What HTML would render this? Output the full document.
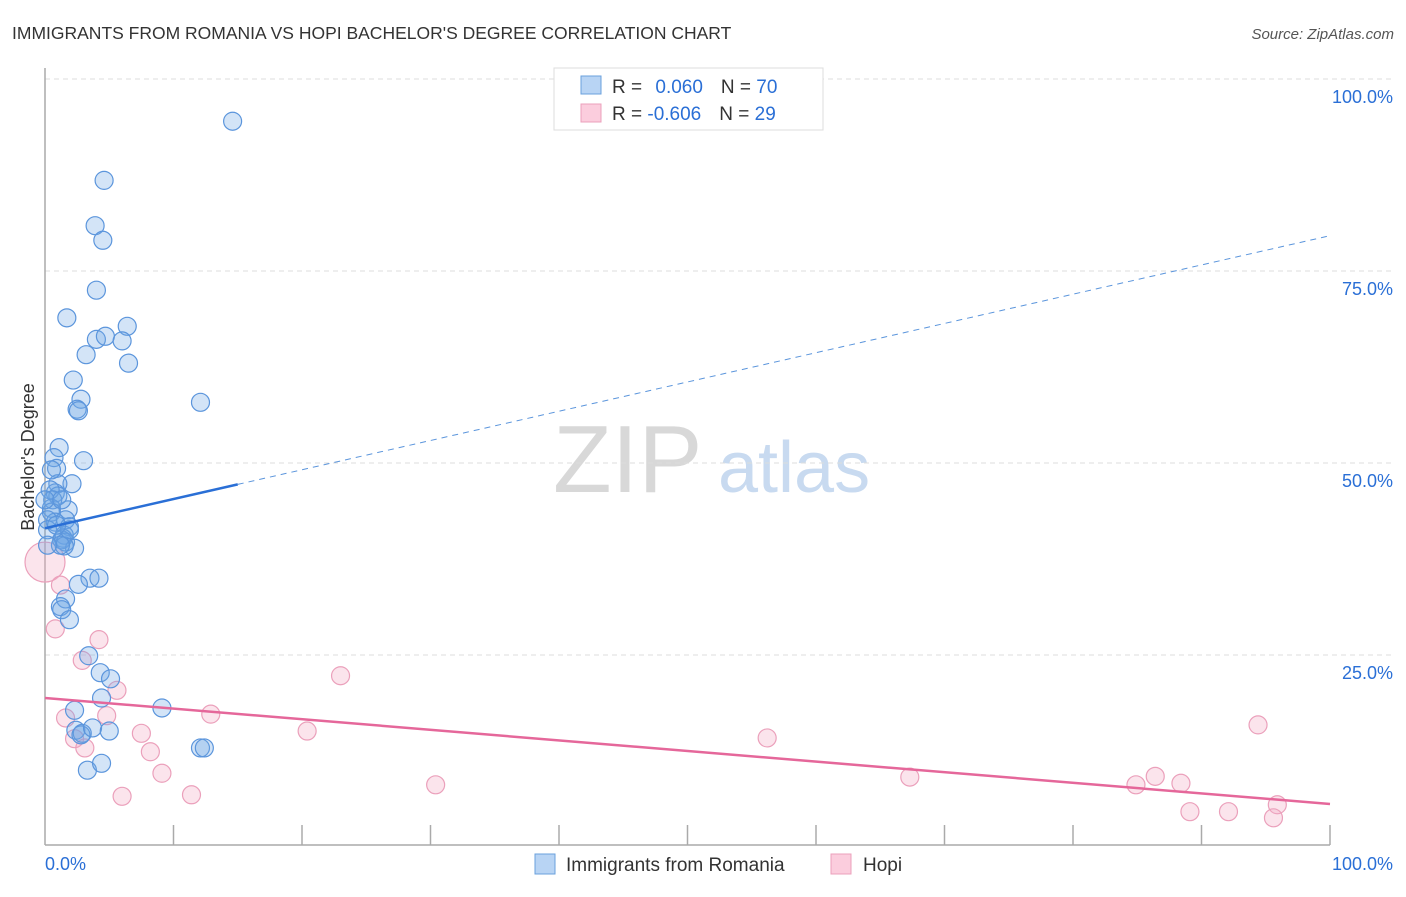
<!DOCTYPE html>
<html><head><meta charset="utf-8"><style>
body{margin:0;background:#fff;font-family:"Liberation Sans",sans-serif;}
svg text{font-family:"Liberation Sans",sans-serif;}
</style></head><body>
<svg width="1406" height="892" viewBox="0 0 1406 892">
<text x="12" y="39" font-size="17.5" fill="#333">IMMIGRANTS FROM ROMANIA VS HOPI BACHELOR'S DEGREE CORRELATION CHART</text>
<text x="1394" y="39" font-size="15" fill="#555" font-style="italic" text-anchor="end">Source: ZipAtlas.com</text>
<g>
<text x="553" y="492" font-family="Liberation Serif" font-size="96" fill="#d8d8d8">ZIP</text>
<text x="718" y="492" font-size="72" fill="#c8daf0">atlas</text>
</g>
<g id="grid"></g>
<g id="axes"></g>
<text transform="translate(34,457) rotate(-90)" font-size="18" fill="#333" text-anchor="middle">Bachelor's Degree</text>
<g id="pts"></g>
<g id="trend"></g>
<g>
<rect x="554" y="68" width="269" height="62" fill="#fff" stroke="#ddd"/>
<rect x="581" y="76" width="20" height="18" fill="#b8d4f4" stroke="#6aa0dc"/>
<rect x="581" y="104" width="20" height="18" fill="#fbcddd" stroke="#eba0bb"/>
<text x="612" y="93" font-size="19" fill="#333">R = <tspan fill="#2a6fd6" dx="8">0.060</tspan><tspan fill="#333" dx="18">N = </tspan><tspan fill="#2a6fd6">70</tspan></text>
<text x="612" y="120" font-size="19" fill="#333">R = <tspan fill="#2a6fd6">-0.606</tspan><tspan fill="#333" dx="18">N = </tspan><tspan fill="#2a6fd6">29</tspan></text>
</g>
<g>
<rect x="535" y="854" width="20" height="20" fill="#b8d4f4" stroke="#6aa0dc"/>
<text x="566" y="871" font-size="19" fill="#333">Immigrants from Romania</text>
<rect x="831" y="854" width="20" height="20" fill="#fbcddd" stroke="#eba0bb"/>
<text x="863" y="871" font-size="19" fill="#333">Hopi</text>
</g>
</svg>
<script>
const blueX=[14.6,4.6,3.9,4.5,4.0,1.7,6.4,4.0,4.7,6.0,3.2,6.5,2.2,2.8,2.5,2.6,12.1,1.1,3.0,0.7,0.9,2.1,1.0,0.8,1.0,0.4,0.6,0.5,1.8,0.5,1.6,0.8,1.9,1.5,1.4,1.3,1.6,2.3,1.5,3.5,4.2,2.6,1.6,1.2,1.3,1.9,3.4,4.3,5.1,4.4,2.3,9.1,2.4,2.9,2.8,3.7,5.0,12.1,12.4,3.3,4.4,0.2,0.2,0,0.5,1.2,1.9,0.2,0.9,1.3];
const blueY=[94.5,86.8,80.9,79.0,72.5,68.9,67.8,66.1,66.5,65.9,64.1,63.0,60.8,58.3,57.0,56.8,57.9,52.0,50.3,50.7,49.3,47.3,47.3,46.1,45.7,46.5,45.2,44.1,43.9,43.6,42.6,42.3,41.7,40.6,40.2,40.0,39.7,38.9,39.2,35.0,35.0,34.2,32.3,31.3,30.9,29.6,24.9,22.7,21.9,19.4,17.8,18.1,15.2,14.8,14.6,15.5,15.1,12.9,12.9,10.0,10.9,42.6,41.3,45.2,49.1,39.3,41.3,39.3,41.9,45.2];
const pinkX=[0,1.2,0.8,4.2,2.9,5.6,1.6,4.8,2.3,3.1,7.5,8.2,12.9,9.1,6.0,11.4,20.4,23.0,30.4,56.2,67.3,84.9,86.4,88.4,89.1,92.1,94.4,95.9,95.6];
const pinkY=[37.1,34.1,28.4,27.0,24.3,20.4,16.8,17.1,14.1,12.9,14.8,12.4,17.3,9.6,6.6,6.8,15.1,22.3,8.1,14.2,9.1,8.1,9.2,8.3,4.6,4.6,15.9,5.5,3.8];
const blueTrend=[41.5,79.6], pinkTrend=[19.4,5.6];
const yTicks=[25,50,75,100];
const xTickLabels=["0.0%","100.0%"];
const NS="http://www.w3.org/2000/svg";
const sx=v=>45+v*12.85, sy=v=>847-v*7.68;
function mk(tag,attrs,parent){const e=document.createElementNS(NS,tag);for(const k in attrs)e.setAttribute(k,attrs[k]);parent.appendChild(e);return e;}
const grid=document.getElementById('grid'),axes=document.getElementById('axes'),pts=document.getElementById('pts'),tr=document.getElementById('trend');
yTicks.forEach(t=>{
 const l=mk('line',{x1:45,x2:1394,y1:sy(t),y2:sy(t),stroke:'#ddd','stroke-dasharray':'5,4'},grid);
 
 
 const tx=mk('text',{x:1393,y:sy(t)+24,'font-size':18,fill:'#2a6fd6','text-anchor':'end'},grid);
 tx.textContent=t.toFixed(1)+'%';
 
 
});
mk('line',{x1:45,x2:45,y1:68,y2:845,stroke:'#aaa','stroke-width':1.5},axes);
mk('line',{x1:45,x2:1330,y1:845,y2:845,stroke:'#aaa','stroke-width':1.5},axes);
for(let i=1;i<=10;i++){
 const t=mk('line',{x1:sx(i*10),x2:sx(i*10),y1:825,y2:845,stroke:'#aaa','stroke-width':1.5},axes);
 
 
}
const xl0=mk('text',{x:45,y:870,'font-size':18,fill:'#2a6fd6'},axes);xl0.textContent=xTickLabels[0];


const xl1=mk('text',{x:1393,y:870,'font-size':18,fill:'#2a6fd6','text-anchor':'end'},axes);xl1.textContent=xTickLabels[1];


pinkX.forEach((x,i)=>{
 const c=mk('circle',{cx:sx(x),cy:sy(pinkY[i]),r:i===0?20:9,fill:'rgba(244,170,196,0.32)',stroke:'#eba0bb','stroke-width':1.2},pts);
 
 
});
blueX.forEach((x,i)=>{
 const c=mk('circle',{cx:sx(x),cy:sy(blueY[i]),r:9,fill:'rgba(110,165,230,0.3)',stroke:'#5b95dc','stroke-width':1.2},pts);
 
 
});
const bAt=v=>blueTrend[0]+(blueTrend[1]-blueTrend[0])*v/100;
const b1=mk('line',{x1:sx(0),y1:sy(bAt(0)),x2:sx(15),y2:sy(bAt(15)),stroke:'#2a6fd6','stroke-width':2.5},tr);


const b2=mk('line',{x1:sx(15),y1:sy(bAt(15)),x2:sx(100),y2:sy(bAt(100)),stroke:'#5b95dc','stroke-width':1,'stroke-dasharray':'6,5'},tr);


const p1=mk('line',{x1:sx(0),y1:sy(pinkTrend[0]),x2:sx(100),y2:sy(pinkTrend[1]),stroke:'#e5679a','stroke-width':2.5},tr);


</script>
</body></html>
